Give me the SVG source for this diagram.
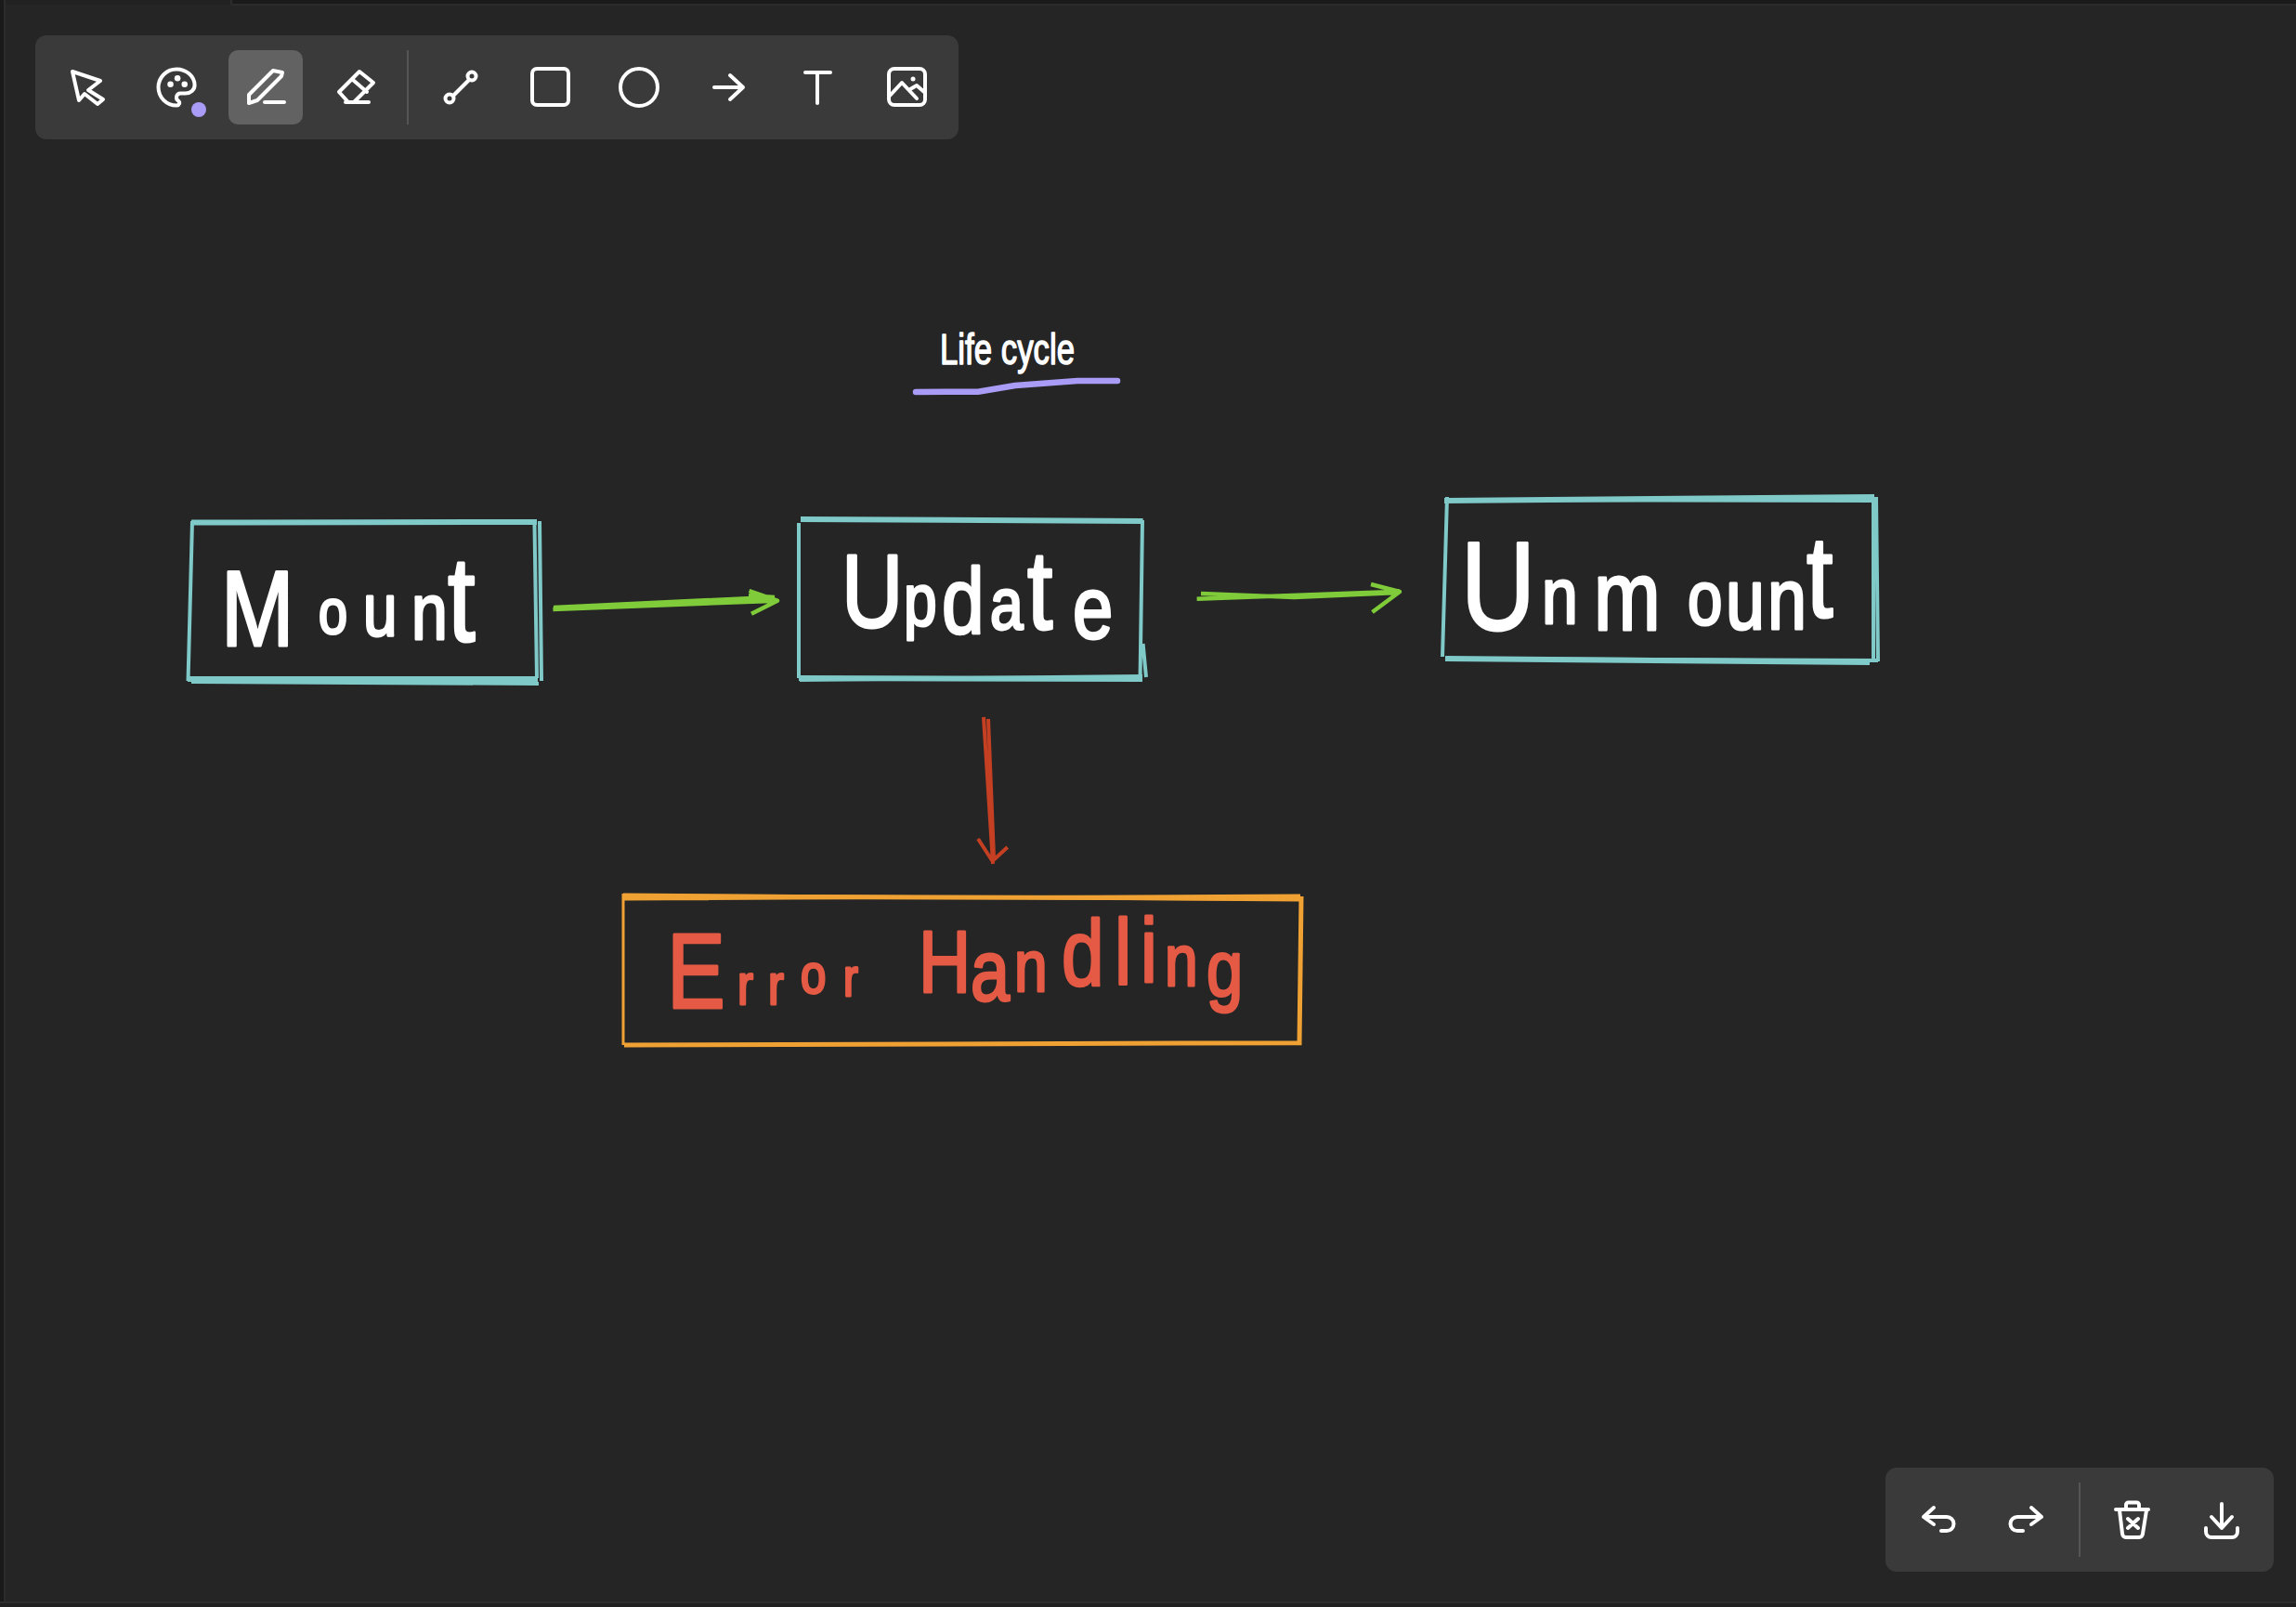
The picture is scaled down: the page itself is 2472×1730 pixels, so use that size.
<svg xmlns="http://www.w3.org/2000/svg" width="2472" height="1730" viewBox="0 0 2472 1730">
<style>
.sk{fill:none;stroke-linecap:butt;stroke-linejoin:round}
.teal{stroke:#7fc9c9;stroke-width:6}
.teal2{stroke:#7fc9c9;stroke-width:4}
.org{stroke:#efa233;stroke-width:5}
.org2{stroke:#efa233;stroke-width:3}
.grn{stroke:#7fcb3a;stroke-width:4.5}
.red{stroke:#c53f22;stroke-width:4}
.ic{fill:none;stroke:#fff;stroke-width:4;stroke-linecap:round;stroke-linejoin:round}
.hw{font-family:"Liberation Sans",Arial,sans-serif;fill:#fff;stroke:#fff;stroke-width:3;stroke-linejoin:round}
.hwr{fill:#e55a45;stroke:#e55a45}
</style>
<rect width="2472" height="1730" fill="#252525"/>
<g id="frame">
<rect x="250" y="0" width="2222" height="4" fill="#1a1a1a"/>
<rect x="250" y="4" width="2222" height="2" fill="#2c2c2c"/>
<rect x="248" y="0" width="2" height="5" fill="#2c2c2c"/>
<rect x="0" y="0" width="248" height="5" fill="#222"/>
<rect x="0" y="0" width="4" height="1730" fill="#1a1a1a"/>
<rect x="4" y="0" width="2" height="1724" fill="#2c2c2c"/>
<rect x="0" y="1724" width="2472" height="2" fill="#2e2e2e"/>
<rect x="0" y="1726" width="2472" height="4" fill="#202020"/>
</g>
<g id="toolbar">
<rect x="38" y="38" width="994" height="112" rx="12" fill="#3a3a3a"/>
<rect x="246" y="54" width="80" height="80" rx="10" fill="#626262"/>
<path d="M439 54V134" stroke="#555" stroke-width="2"/>
<path class="ic" d="M78 77L108 87L95 97L111 107L105 112L91 101L85 108Z"/>
<g transform="translate(164 68) scale(2.17)"><path d="M12 21a9 9 0 0 1 0-18c4.970 0 9 3.582 9 8c0 1.060-.474 2.078-1.318 2.828c-.844.750-1.989 1.172-3.182 1.172h-2.500a2 2 0 0 0-1 3.750a1.300 1.300 0 0 1-1 2.250" fill="none" stroke="#fff" stroke-width="1.85" stroke-linecap="round" stroke-linejoin="round"/><circle cx="9" cy="10.500" r="1.500" fill="#fff"/><circle cx="12.500" cy="7.500" r="1.500" fill="#fff"/><circle cx="16" cy="10.500" r="1.500" fill="#fff"/></g>
<circle cx="214" cy="118" r="8" fill="#a99cf6"/>
<path class="ic" d="M268 111V102L294 76L304 78L303 82L277 108ZM285 110H306"/>
<path class="ic" d="M387 77L402 89L381 110H375L365 99ZM380 86L395 99M372 110H397"/>
<circle class="ic" cx="508" cy="82" r="4.500"/><circle class="ic" cx="484" cy="106" r="4.500"/><path class="ic" d="M505 86L488 103"/>
<rect class="ic" x="573" y="74" width="39" height="39" rx="5"/>
<circle class="ic" cx="688" cy="94" r="20"/>
<path class="ic" d="M769 94H800M786 81L800 94L786 107"/>
<path class="ic" d="M867 78H894M880 78V111"/>
<rect class="ic" x="957" y="74" width="39" height="39" rx="6"/>
<path class="ic" d="M958 103L971 89L987 106M980 96L987 92L995 99"/><circle cx="983" cy="85" r="2.500" fill="#fff"/>
</g>
<g id="history-bar">
<rect x="2030" y="1580" width="418" height="112" rx="12" fill="#3a3a3a"/>
<path d="M2239 1596V1676" stroke="#555" stroke-width="2"/>
<path class="ic" d="M2082 1623L2071 1633L2082 1641M2071 1633H2096a7.500 7.500 0 0 1 0 15H2090"/>
<path class="ic" d="M2187 1623L2198 1633L2187 1641M2198 1633H2172a7.500 7.500 0 0 0 0 15H2178"/>
<path class="ic" d="M2278 1625H2313M2289 1625V1620a2.500 2.500 0 0 1 2.500-2.500H2300.500a2.500 2.500 0 0 1 2.500 2.500V1625M2282 1626L2285 1651a4 4 0 0 0 4 4H2303a4 4 0 0 0 4-4L2311 1626M2291 1635L2302 1645M2302 1635L2291 1645"/>
<path class="ic" d="M2392 1619V1645M2381 1633L2392 1645L2403 1633M2375 1645V1649a6 6 0 0 0 6 6H2403a6 6 0 0 0 6-6V1645"/>
</g>
<g id="title">
<text class="hw" style="stroke-width:1.500" x="1012" y="392" font-size="46" textLength="145" lengthAdjust="spacingAndGlyphs">Life cycle</text>
<path d="M986 422L1053 421.700L1093 415L1160 410L1203 410" fill="none" stroke="#a99cf6" stroke-width="6.500" stroke-linecap="round" stroke-linejoin="round"/>
</g>
<g id="node-mount">
<path class="sk teal" d="M206 562.500L578 562M579 731L202 731"/>
<path class="sk teal2" d="M207 561L202.500 733M581 561L583 733M575.500 565L578 730M206 734L580 736"/>
<text class="hw" transform="scale(.82 1)"><tspan x="290.200" y="695" font-size="115">M</tspan><tspan x="418.300" y="682" font-size="68">o</tspan><tspan x="476.800" y="684" font-size="80">u</tspan><tspan x="540.200" y="688" font-size="85">n</tspan><tspan x="587.800" y="690" font-size="130">t</tspan></text>
</g>
<g id="node-update">
<path class="sk teal" d="M862 559L1230.600 561M860 730L1230 731"/>
<path class="sk teal2" d="M860 563L860 730M1230 560L1227.500 733M1230.600 693L1234 729M861 732L1230 728"/>
<text class="hw" transform="scale(.82 1)"><tspan x="1104.900" y="675" font-size="112">U</tspan><tspan x="1186.600" y="673" font-size="78">p</tspan><tspan x="1236.600" y="682" font-size="100">d</tspan><tspan x="1300" y="677" font-size="78">a</tspan><tspan x="1348.800" y="677" font-size="120">t</tspan><tspan x="1408.500" y="687" font-size="95">e</tspan></text>
</g>
<g id="node-unmount">
<path class="sk teal" d="M1555 539L2018 535M1556 709L2013 713"/>
<path class="sk teal2" d="M1558 535L1553 707M1558 538L2022 539M2020 535L2022 712M2017 540L2017 710M1556 709L2022 711"/>
<text class="hw" transform="scale(.82 1)"><tspan x="1918.300" y="678" font-size="135">U</tspan><tspan x="2024.400" y="671" font-size="85">n</tspan><tspan x="2092.700" y="678" font-size="105">m</tspan><tspan x="2215.900" y="672" font-size="82">o</tspan><tspan x="2265.900" y="677" font-size="92">u</tspan><tspan x="2320.700" y="677" font-size="92">n</tspan><tspan x="2372" y="664" font-size="125">t</tspan></text>
</g>
<g id="node-error">
<path class="sk org" d="M671 965L1399 967M672 1125L1401.500 1122.700M1401 965L1399 1122.700"/>
<path class="sk org2" d="M671 962V1125M671 963L1400 969M671 968L1400 964"/>
<text class="hw hwr" transform="scale(.82 1)"><tspan x="875.600" y="1085" font-size="115">E</tspan><tspan x="968.300" y="1081" font-size="62">r</tspan><tspan x="1008.500" y="1081" font-size="62">r</tspan><tspan x="1051.200" y="1069" font-size="60">o</tspan><tspan x="1107.300" y="1072" font-size="58">r</tspan><tspan x="1206.100" y="1068" font-size="95">H</tspan><tspan x="1274.400" y="1077" font-size="92">a</tspan><tspan x="1331.700" y="1067" font-size="78">n</tspan><tspan x="1393.900" y="1061" font-size="100">d</tspan><tspan x="1463.400" y="1060" font-size="100">l</tspan><tspan x="1497.600" y="1057" font-size="98">i</tspan><tspan x="1529.300" y="1061" font-size="78">n</tspan><tspan x="1584.100" y="1072" font-size="86">g</tspan></text>
</g>
<g id="connectors">
<path class="sk grn" d="M595.400 656L837 646.700M596 654L830.500 643M806.600 636L837 646.700L809 660.700M806 641L834 643"/>
<path class="sk grn" d="M1288.600 644.700L1507 636.700M1293 639L1393.600 643L1505 638M1476 629L1507 637L1477.500 659"/>
<path class="sk red" d="M1059 772L1069 930M1064 774L1070 923M1053 903L1068.500 927L1084.700 912"/>
</g>
</svg>
